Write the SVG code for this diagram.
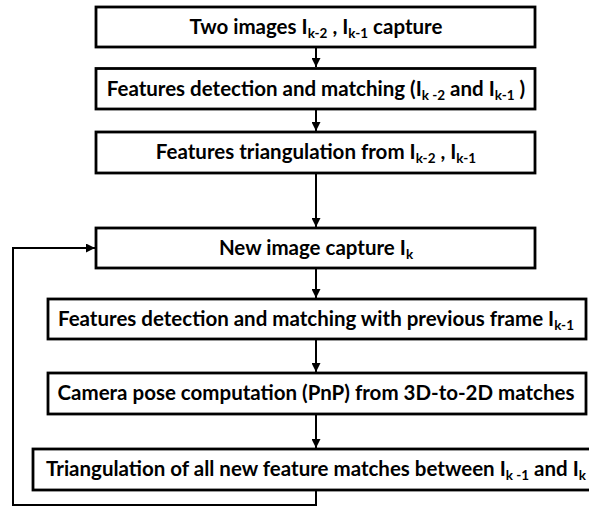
<svg xmlns="http://www.w3.org/2000/svg" width="589" height="509" viewBox="0 0 589 509">
<style>
.box{fill:#fff;stroke:#000;stroke-width:2.8}
.t{font-family:Lato,"Open Sans","Liberation Sans",sans-serif;font-weight:bold;font-size:20.5px;fill:#000;text-anchor:middle}
.s{font-size:13.5px}
.c{fill:none;stroke:#000;stroke-width:2}
</style>
<defs>
<marker id="ah" viewBox="0 0 10 10" refX="10" refY="5" markerWidth="4.5" markerHeight="4.5" orient="auto" markerUnits="strokeWidth">
<path d="M0,0 L10,5 L0,10 z" fill="#000"/>
</marker>
</defs>
<rect width="589" height="509" fill="#fff"/>
<g id="connectors">
<line class="c" x1="316" y1="47" x2="316" y2="67" marker-end="url(#ah)"/>
<line class="c" x1="316" y1="109" x2="316" y2="131" marker-end="url(#ah)"/>
<line class="c" x1="316" y1="173" x2="316" y2="227" marker-end="url(#ah)"/>
<line class="c" x1="316" y1="268" x2="316" y2="298" marker-end="url(#ah)"/>
<line class="c" x1="316" y1="339" x2="316" y2="372" marker-end="url(#ah)"/>
<line class="c" x1="316" y1="414" x2="316" y2="448" marker-end="url(#ah)"/>
<polyline class="c" points="316,490 316,505 13,505 13,248 95,248" marker-end="url(#ah)"/>
</g>
<g id="n1">
<rect class="box" x="96" y="7" width="439" height="40"/>
<text class="t" x="316" y="34">Two images I<tspan class="s" dy="4">k-2</tspan><tspan dy="-4"> , I</tspan><tspan class="s" dy="4">k-1</tspan><tspan dy="-4"> capture</tspan></text>
</g>
<g id="n2">
<rect class="box" x="96" y="68.5" width="439" height="40.5"/>
<text class="t" x="316" y="96">Features detection and matching (I<tspan class="s" dy="4">k -2</tspan><tspan dy="-4"> and I</tspan><tspan class="s" dy="4">k-1</tspan><tspan dy="-4"> )</tspan></text>
</g>
<g id="n3">
<rect class="box" x="96" y="132" width="439" height="41"/>
<text class="t" x="316" y="159">Features triangulation from I<tspan class="s" dy="4">k-2</tspan><tspan dy="-4"> , I</tspan><tspan class="s" dy="4">k-1</tspan></text>
</g>
<g id="n4">
<rect class="box" x="96" y="228" width="439" height="40"/>
<text class="t" x="316" y="255">New image capture I<tspan class="s" dy="4">k</tspan></text>
</g>
<g id="n5">
<rect class="box" x="48" y="299" width="538" height="40"/>
<text class="t" x="316" y="326">Features detection and matching with previous frame I<tspan class="s" dy="4">k-1</tspan></text>
</g>
<g id="n6">
<rect class="box" x="48" y="373" width="538" height="41"/>
<text class="t" x="316" y="400">Camera pose computation (PnP) from 3D-to-2D matches</text>
</g>
<g id="n7">
<rect class="box" x="33" y="449" width="580" height="41"/>
<text class="t" x="316" y="476">Triangulation of all new feature matches between I<tspan class="s" dy="4">k -1</tspan><tspan dy="-4"> and I</tspan><tspan class="s" dy="4">k</tspan></text>
</g>
</svg>
